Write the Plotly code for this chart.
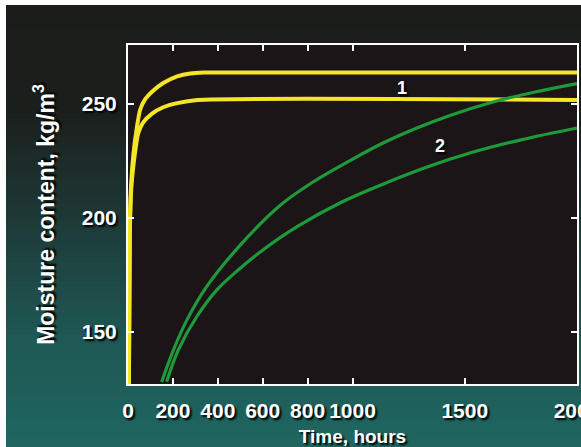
import plotly.graph_objects as go

# ---- data ----
x_ticks = [0, 200, 400, 600, 800, 1000, 1500, 2000]
y_ticks = [150, 200, 250]

yellow_upper_t = [4, 8, 14, 24, 40, 54, 76, 112, 157, 219, 277, 340, 2000]
yellow_upper_v = [127, 195, 215, 228, 240, 247.5, 252.0, 255.8, 259.2, 262.1, 263.4, 263.8, 263.8]

yellow_lower_t = [4, 8, 14, 24, 36, 45, 67, 107, 157, 219, 309, 2000]
yellow_lower_v = [127, 193, 212, 223, 232, 237.0, 241.8, 245.8, 248.6, 250.4, 251.8, 251.8]

green_upper_t = [150, 200, 261, 351, 499, 677, 824, 989, 1136, 1287, 1434, 1626, 1813, 2000]
green_upper_v = [128.1, 141.5, 155.0, 170.0, 188.0, 205.5, 215.8, 225.2, 232.9, 239.5, 245.0, 250.9, 255.3, 259.0]

green_lower_t = [172, 224, 306, 395, 499, 601, 753, 944, 1122, 1345, 1523, 1746, 2000]
green_lower_v = [128.2, 142.1, 156.7, 168.4, 177.9, 186.0, 196.2, 206.6, 214.3, 222.8, 228.5, 234.2, 239.5]

label_text = ["1", "2"]
label_t = [1222, 1391]
label_v = [257, 231.5]

# ---- layout constants ----
W, H = 581, 447
ML, MR, MT, MB = 128, 4, 45, 63
PW, PH = W - ML - MR, H - MT - MB

YELLOW = "#f4e526"
GREEN = "#1f9a3a"
SHADOW = "2px 2px 2px #000000"

fig = go.Figure()
for t, v in [(yellow_upper_t, yellow_upper_v), (yellow_lower_t, yellow_lower_v)]:
    fig.add_trace(go.Scatter(x=t, y=v, mode="lines",
                             line=dict(color=YELLOW, width=4, shape="spline", smoothing=0.6),
                             hoverinfo="skip", showlegend=False))
for t, v in [(green_upper_t, green_upper_v), (green_lower_t, green_lower_v)]:
    fig.add_trace(go.Scatter(x=t, y=v, mode="lines",
                             line=dict(color=GREEN, width=3.2, shape="spline", smoothing=1.0),
                             hoverinfo="skip", showlegend=False))

for txt, t, v in zip(label_text, label_t, label_v):
    fig.add_annotation(x=t, y=v, text=txt, showarrow=False,
                       font=dict(family="Arial, Liberation Sans, sans-serif", size=18,
                                 color="white", weight="bold", shadow=SHADOW))

# ---- background gradient (decoration) ----
stops = [(0, (27, 29, 25)), (110, (27, 31, 28)), (180, (29, 47, 45)),
         (260, (30, 68, 65)), (340, (31, 88, 84)), (447, (31, 102, 97))]

def col_at(py):
    for (y0, c0), (y1, c1) in zip(stops[:-1], stops[1:]):
        if y0 <= py <= y1:
            f = (py - y0) / (y1 - y0)
            return "rgb(%d,%d,%d)" % tuple(round(a + (b - a) * f) for a, b in zip(c0, c1))
    return "rgb(%d,%d,%d)" % stops[-1][1]

def px_to_paper_x(px):
    return (px - ML) / PW

def px_to_paper_y(py):
    return (H - MB - py) / PH

shapes = []
band = 6
top_white, left_white = 5, 6
py = top_white
while py < H:
    p2 = min(py + band, H)
    shapes.append(dict(type="rect", xref="paper", yref="paper", layer="below",
                       x0=px_to_paper_x(left_white), x1=px_to_paper_x(W + 2),
                       y0=px_to_paper_y(p2 + 0.5), y1=px_to_paper_y(py),
                       fillcolor=col_at((py + p2) / 2), line=dict(width=0)))
    py = p2
# plot-area fill
shapes.append(dict(type="rect", xref="paper", yref="paper", layer="below",
                   x0=0, x1=1, y0=0, y1=1, fillcolor="#1b1517", line=dict(width=0)))

axis_common = dict(showline=True, linecolor="white", linewidth=2, mirror="ticks",
                   ticks="inside", ticklen=6, tickwidth=2, tickcolor="white",
                   showgrid=False, zeroline=False, tickangle=0, ticklabeloverflow="allow",
                   tickfont=dict(family="Liberation Sans Narrow, Arial Narrow, Arial, sans-serif",
                                 size=21, color="white", weight="bold", shadow=SHADOW))

fig.update_layout(
    width=W, height=H,
    margin=dict(l=ML, r=MR, t=MT, b=MB, autoexpand=False),
    paper_bgcolor="white",
    plot_bgcolor="rgba(0,0,0,0)",
    shapes=shapes,
    xaxis=dict(range=[0, 2000], tickvals=x_ticks, ticktext=[str(v) for v in x_ticks],
               ticklabelstandoff=7,
               title=dict(text="Time, hours", standoff=10,
                          font=dict(family="Arial, Liberation Sans, sans-serif", size=19,
                                    color="white", weight="bold", shadow=SHADOW)),
               **axis_common),
    yaxis=dict(range=[127.2, 275.9], tickvals=y_ticks, ticktext=[str(v) for v in y_ticks],
               ticklabelstandoff=5,
               title=dict(text="Moisture content, kg/m<sup>3</sup>", standoff=21,
                          font=dict(family="Arial, Liberation Sans, sans-serif", size=23,
                                    color="white", weight="bold", shadow=SHADOW)),
               **axis_common),
)

fig.write_html("out.html")
